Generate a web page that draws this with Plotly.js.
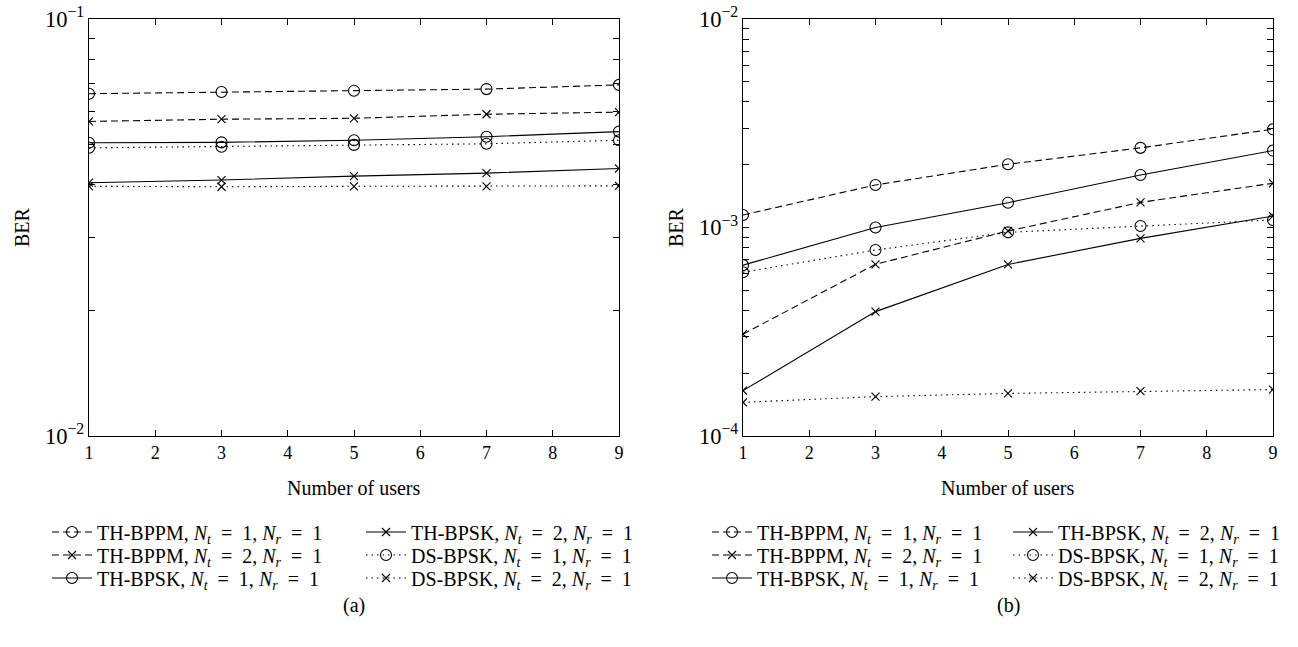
<!DOCTYPE html>
<html>
<head>
<meta charset="utf-8">
<script src="https://cdn.plot.ly/plotly-3.0.1.min.js"></script>
<style>html,body{margin:0;padding:0;background:#fff;}#chart{width:1298px;height:647px;}</style>
</head>
<body>
<div id="chart"></div>
<script>
// ---------- data ----------
const users = [1, 3, 5, 7, 9];
const EQ = '\u2002=\u2002';
const seriesNames = [
  'TH-BPPM, <i>N<sub>t</sub></i>' + EQ + '1, <i>N<sub>r</sub></i>' + EQ + '1',
  'TH-BPPM, <i>N<sub>t</sub></i>' + EQ + '2, <i>N<sub>r</sub></i>' + EQ + '1',
  'TH-BPSK, <i>N<sub>t</sub></i>' + EQ + '1, <i>N<sub>r</sub></i>' + EQ + '1',
  'TH-BPSK, <i>N<sub>t</sub></i>' + EQ + '2, <i>N<sub>r</sub></i>' + EQ + '1',
  'DS-BPSK, <i>N<sub>t</sub></i>' + EQ + '1, <i>N<sub>r</sub></i>' + EQ + '1',
  'DS-BPSK, <i>N<sub>t</sub></i>' + EQ + '2, <i>N<sub>r</sub></i>' + EQ + '1'
];
// panel (a)
const a_thbppm1 = [0.0662, 0.0668, 0.0673, 0.0679, 0.0695];
const a_thbppm2 = [0.0568, 0.0575, 0.0578, 0.0591, 0.0598];
const a_thbpsk1 = [0.0505, 0.0506, 0.0512, 0.0522, 0.0537];
const a_thbpsk2 = [0.0405, 0.0411, 0.0420, 0.0427, 0.0438];
const a_dsbpsk1 = [0.0491, 0.0494, 0.0499, 0.0502, 0.0512];
const a_dsbpsk2 = [0.0397, 0.0396, 0.0397, 0.0397, 0.0398];
// panel (b)
const b_thbppm1 = [1.148e-3, 1.60e-3, 2.01e-3, 2.41e-3, 2.96e-3];
const b_thbppm2 = [3.08e-4, 6.66e-4, 9.62e-4, 1.32e-3, 1.63e-3];
const b_thbpsk1 = [6.6e-4, 1.0e-3, 1.315e-3, 1.787e-3, 2.34e-3];
const b_thbpsk2 = [1.65e-4, 3.95e-4, 6.65e-4, 8.87e-4, 1.135e-3];
const b_dsbpsk1 = [6.1e-4, 7.8e-4, 9.48e-4, 1.016e-3, 1.087e-3];
const b_dsbpsk2 = [1.45e-4, 1.545e-4, 1.60e-4, 1.64e-4, 1.67e-4];
const xTicks = [1, 2, 3, 4, 5, 6, 7, 8, 9];

// ---------- styles ----------
const FONT = 'Liberation Serif, Times New Roman, serif';
const dashLong = '7px,4px';
const dotted = '1.5px,4px';
const styles = [
  {dash: dashLong, sym: 'circle-open', size: 11},
  {dash: dashLong, sym: 'x-thin-open', size: 8},
  {dash: 'solid', sym: 'circle-open', size: 11},
  {dash: 'solid', sym: 'x-thin-open', size: 8},
  {dash: dotted, sym: 'circle-open', size: 11},
  {dash: dotted, sym: 'x-thin-open', size: 8}
];
// legend rows: row1 = series 0 & 3, row2 = 1 & 4, row3 = 2 & 5
const rowOf = [0, 1, 2, 0, 1, 2];
const colOf = [0, 0, 0, 1, 1, 1];
const legendIds = [['legend', 'legend2', 'legend3'], ['legend4', 'legend5', 'legend6']];
const col1Width = [259, 246];
const col2Width = 228;

function mk(ys, i, panel) {
  const s = styles[i];
  return {
    x: users, y: ys, type: 'scatter', mode: 'lines+markers',
    name: seriesNames[i],
    xaxis: panel === 0 ? 'x' : 'x2', yaxis: panel === 0 ? 'y' : 'y2',
    legend: legendIds[panel][rowOf[i]],
    legendwidth: colOf[i] === 0 ? col1Width[panel] : col2Width,
    line: {color: '#000', width: 1.1, dash: s.dash},
    marker: {symbol: s.sym, size: s.size, color: '#000', line: {color: '#000', width: 1.1}}
  };
}
const aSeries = [a_thbppm1, a_thbppm2, a_thbpsk1, a_thbpsk2, a_dsbpsk1, a_dsbpsk2];
const bSeries = [b_thbppm1, b_thbppm2, b_thbpsk1, b_thbpsk2, b_dsbpsk1, b_dsbpsk2];
const data = [];
aSeries.forEach((ys, i) => data.push(mk(ys, i, 0)));
bSeries.forEach((ys, i) => data.push(mk(ys, i, 1)));

const W = 1298, H = 647;
const yDom = [1 - 436 / H, 1 - 19 / H];
function xaxis(dom) {
  return {
    domain: dom, range: [1, 9], tickvals: xTicks, ticktext: xTicks.map(String),
    ticks: 'inside', ticklen: 6, tickwidth: 1, tickcolor: '#000',
    showline: true, linecolor: '#000', linewidth: 1.2, mirror: 'ticks',
    showgrid: false, zeroline: false,
    tickfont: {family: FONT, size: 18, color: '#000'}
  };
}
function yaxis(range, anchor) {
  return {
    domain: yDom, type: 'log', range: range, dtick: 1, exponentformat: 'power',
    anchor: anchor,
    ticks: 'inside', ticklen: 6, tickwidth: 1, tickcolor: '#000',
    minor: {ticks: 'inside', ticklen: 6, tickcolor: '#000', dtick: 'D1', showgrid: false},
    showline: true, linecolor: '#000', linewidth: 1.2, mirror: 'ticks',
    showgrid: false, zeroline: false,
    tickfont: {family: FONT, size: 18, color: '#000'}
  };
}
const rowY = [532, 555, 578];
function leg(x, row) {
  return {
    x: x / W, y: 1 - rowY[row] / H, xanchor: 'left', yanchor: 'middle',
    orientation: 'h', bgcolor: 'rgba(0,0,0,0)', borderwidth: 0,
    entrywidthmode: 'pixels',
    font: {family: FONT, size: 20, color: '#000'}, itemwidth: 40
  };
}
const ann = (x, y, text, extra) => Object.assign({
  x: x / W, y: 1 - y / H, xref: 'paper', yref: 'paper', text: text, showarrow: false,
  xanchor: 'center', yanchor: 'middle',
  font: {family: FONT, size: 20, color: '#000'}
}, extra || {});

const layout = {
  width: W, height: H, margin: {l: 0, r: 0, t: 0, b: 0, autoexpand: false},
  paper_bgcolor: '#fff', plot_bgcolor: '#fff', showlegend: true,
  xaxis: xaxis([89 / W, 619 / W]),
  yaxis: yaxis([-2, -1], 'x'),
  xaxis2: Object.assign(xaxis([743 / W, 1273 / W]), {anchor: 'y2'}),
  yaxis2: yaxis([-4, -2], 'x2'),
  legend: leg(47, 0), legend2: leg(47, 1), legend3: leg(47, 2),
  legend4: leg(707, 0), legend5: leg(707, 1), legend6: leg(707, 2),
  annotations: [
    ann(22, 227, 'BER', {textangle: -90}),
    ann(676, 227, 'BER', {textangle: -90}),
    ann(354, 488, 'Number of users'),
    ann(1008, 488, 'Number of users'),
    ann(354, 605, '(a)'),
    ann(1008, 605, '(b)')
  ]
};
Plotly.newPlot('chart', data, layout, {staticPlot: true});
</script>
</body>
</html>
